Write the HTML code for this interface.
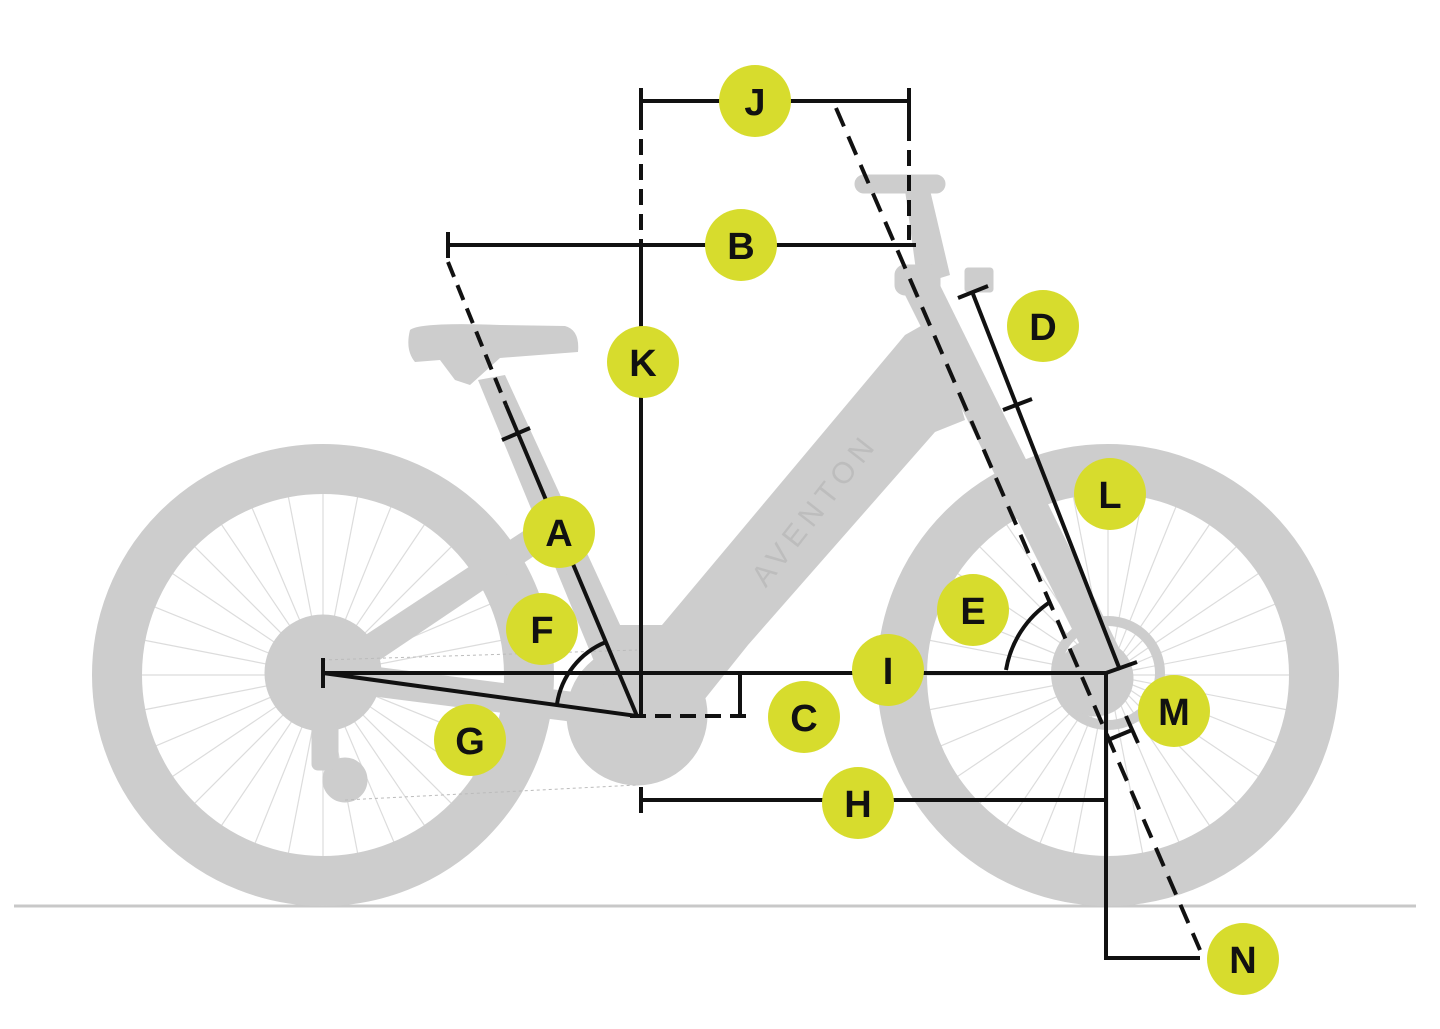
<!DOCTYPE html>
<html><head><meta charset="utf-8"><style>
html,body{margin:0;padding:0;background:#fff;}
svg{display:block;}
text{font-family:"Liberation Sans",sans-serif;font-weight:bold;font-size:38px;fill:#111;text-anchor:middle;dominant-baseline:central;}
</style></head><body>
<svg width="1440" height="1029" viewBox="0 0 1440 1029" xmlns="http://www.w3.org/2000/svg">
<defs>
<g id="spokes" stroke="#dcdcdc" stroke-width="1.2">
<line x1="-182" y1="0" x2="182" y2="0"/>
<line x1="-182" y1="0" x2="182" y2="0" transform="rotate(11)"/>
<line x1="-182" y1="0" x2="182" y2="0" transform="rotate(22)"/>
<line x1="-182" y1="0" x2="182" y2="0" transform="rotate(34)"/>
<line x1="-182" y1="0" x2="182" y2="0" transform="rotate(45)"/>
<line x1="-182" y1="0" x2="182" y2="0" transform="rotate(56)"/>
<line x1="-182" y1="0" x2="182" y2="0" transform="rotate(67)"/>
<line x1="-182" y1="0" x2="182" y2="0" transform="rotate(79)"/>
<line x1="-182" y1="0" x2="182" y2="0" transform="rotate(90)"/>
<line x1="-182" y1="0" x2="182" y2="0" transform="rotate(101)"/>
<line x1="-182" y1="0" x2="182" y2="0" transform="rotate(112)"/>
<line x1="-182" y1="0" x2="182" y2="0" transform="rotate(124)"/>
<line x1="-182" y1="0" x2="182" y2="0" transform="rotate(135)"/>
<line x1="-182" y1="0" x2="182" y2="0" transform="rotate(146)"/>
<line x1="-182" y1="0" x2="182" y2="0" transform="rotate(157)"/>
<line x1="-182" y1="0" x2="182" y2="0" transform="rotate(169)"/>
</g>
</defs>
<line x1="14" y1="906" x2="1416" y2="906" stroke="#c8c8c8" stroke-width="3"/>
<use href="#spokes" transform="translate(323,675)"/>
<use href="#spokes" transform="translate(1108,675)"/>
<circle cx="323" cy="675" r="206" fill="none" stroke="#cdcdcd" stroke-width="50"/>
<circle cx="1108" cy="675" r="206" fill="none" stroke="#cdcdcd" stroke-width="50"/>
<g fill="#cdcdcd" stroke="#cdcdcd">
<circle cx="323" cy="673" r="58"/>
<circle cx="345" cy="780" r="22"/>
<rect x="312" y="720" width="26" height="50" rx="6"/>
<circle cx="1108" cy="673" r="52" fill="none" stroke-width="10"/>
<circle cx="1095" cy="678" r="38"/>
<polygon points="323,660 637,700 637,730 323,690" stroke="none"/>
<polygon points="335,655 525,530 540,552 350,680" stroke="none"/>
<circle cx="637" cy="715" r="70"/>
<polygon points="478,380 505,375 650,690 610,700" stroke="none"/>
<path d="M410,330 Q420,322 500,325 L565,326 Q580,330 578,352 L500,358 L470,385 L455,380 L440,360 L415,362 Q405,350 410,330 Z" stroke="none"/>
<polygon points="605,625 662,625 905,335 935,318 965,420 935,432 748,645 700,705 605,705" stroke="none"/>
<polygon points="900,285 935,275 1125,660 1095,675" stroke="none"/>
<polygon points="905,190 930,190 950,275 918,285" stroke="none"/>
<rect x="855" y="175" width="90" height="18" rx="9"/>
<rect x="965" y="268" width="28" height="24" rx="3"/>
<rect x="895" y="265" width="45" height="30" rx="10"/>
</g>
<g stroke="#bbb" stroke-width="1" fill="none" stroke-dasharray="3,3">
<line x1="323" y1="660" x2="637" y2="650"/>
<line x1="345" y1="800" x2="637" y2="785"/>
</g>
<text x="815" y="510" transform="rotate(-52 815 510)" style="font-size:30px;fill:#bdbdbd;font-weight:normal;letter-spacing:6px">AVENTON</text>
<g stroke="#111" stroke-width="4" fill="none">
<line x1="641" y1="101" x2="909" y2="101"/>
<line x1="641" y1="88" x2="641" y2="114"/>
<line x1="909" y1="88" x2="909" y2="125"/>
<line x1="641" y1="114" x2="641" y2="245" stroke-dasharray="16,9"/>
<line x1="909" y1="125" x2="909" y2="240" stroke-dasharray="16,9"/>
<line x1="448" y1="245" x2="916" y2="245"/>
<line x1="448" y1="232" x2="448" y2="258"/>
<line x1="641" y1="245" x2="641" y2="716"/>
<line x1="448" y1="262" x2="506" y2="405" stroke-dasharray="16,9"/>
<line x1="506" y1="405" x2="637" y2="716"/>
<line x1="502" y1="440" x2="530" y2="428"/>
<line x1="836" y1="108" x2="1200" y2="950" stroke-dasharray="20,11"/>
<line x1="973" y1="294" x2="1120" y2="670"/>
<line x1="958" y1="298" x2="988" y2="286"/>
<line x1="1003" y1="410" x2="1032" y2="399"/>
<line x1="323" y1="673" x2="1108" y2="673"/>
<line x1="323" y1="658" x2="323" y2="688"/>
<line x1="323" y1="673" x2="637" y2="716"/>
<line x1="630" y1="716" x2="755" y2="716" stroke-dasharray="16,9"/>
<line x1="740" y1="673" x2="740" y2="716"/>
<line x1="641" y1="800" x2="1105" y2="800"/>
<line x1="641" y1="787" x2="641" y2="813"/>
<polyline points="1106,673 1106,958 1200,958"/>
<line x1="1106" y1="673" x2="1137" y2="662"/>
<line x1="1108" y1="740" x2="1132" y2="730"/>
<line x1="1126" y1="716" x2="1138" y2="743"/>
<path d="M557,704 A80,80 0 0 1 606,642"/>
<path d="M1006,670 A102,102 0 0 1 1050,602"/>
</g>
<g fill="#d7dc2d">
<circle cx="755" cy="101" r="36"/>
<circle cx="741" cy="245" r="36"/>
<circle cx="643" cy="362" r="36"/>
<circle cx="1043" cy="326" r="36"/>
<circle cx="1110" cy="494" r="36"/>
<circle cx="559" cy="532" r="36"/>
<circle cx="542" cy="629" r="36"/>
<circle cx="973" cy="610" r="36"/>
<circle cx="888" cy="670" r="36"/>
<circle cx="804" cy="717" r="36"/>
<circle cx="470" cy="740" r="36"/>
<circle cx="1174" cy="711" r="36"/>
<circle cx="858" cy="803" r="36"/>
<circle cx="1243" cy="959" r="36"/>
</g>
<text x="755" y="103">J</text>
<text x="741" y="247">B</text>
<text x="643" y="364">K</text>
<text x="1043" y="328">D</text>
<text x="1110" y="496">L</text>
<text x="559" y="534">A</text>
<text x="542" y="631">F</text>
<text x="973" y="612">E</text>
<text x="888" y="672">I</text>
<text x="804" y="719">C</text>
<text x="470" y="742">G</text>
<text x="1174" y="713">M</text>
<text x="858" y="805">H</text>
<text x="1243" y="961">N</text>
</svg>
</body></html>
